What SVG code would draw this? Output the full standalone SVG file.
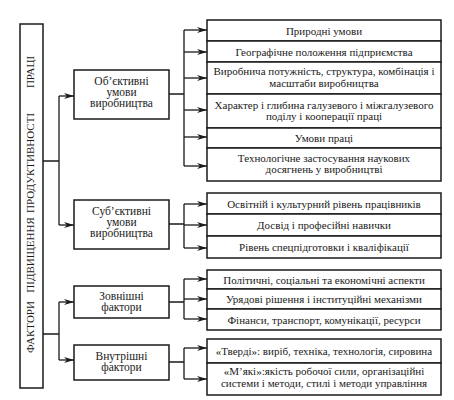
<svg xmlns="http://www.w3.org/2000/svg" width="454" height="400" viewBox="0 0 454 400">
<style>
.box{fill:#fff;stroke:#1a1a1a;stroke-width:1.5}
.ln{fill:none;stroke:#1a1a1a;stroke-width:1.3}
.t{font-family:"Liberation Serif","Times New Roman",serif;font-size:11px;fill:#1a1a1a;text-anchor:middle}
.tl{font-family:"Liberation Serif","Times New Roman",serif;font-size:11.5px;fill:#1a1a1a;text-anchor:middle}
.tv{font-family:"Liberation Serif","Times New Roman",serif;font-size:11px;fill:#1a1a1a;text-anchor:middle}
</style>
<defs>
<marker id="ar" markerWidth="10" markerHeight="6" refX="10" refY="3" orient="auto" markerUnits="userSpaceOnUse">
<path d="M0,0 L10,3 L0,6 L3,3 Z" fill="#1a1a1a"/>
</marker>
</defs>
<rect width="454" height="400" fill="#fff"/>

<g id="connectors">
<path class="ln" d="M43,161 H59 M59,96 V225"/>
<path class="ln" d="M59,96 H74" marker-end="url(#ar)"/>
<path class="ln" d="M59,225 H74" marker-end="url(#ar)"/>
<path class="ln" d="M43,334 H59 M59,302 V360"/>
<path class="ln" d="M59,302 H74" marker-end="url(#ar)"/>
<path class="ln" d="M59,360 H74" marker-end="url(#ar)"/>

<path class="ln" d="M169,94 H184 M184,30 V166"/>
<path class="ln" d="M184,30 H207" marker-end="url(#ar)"/>
<path class="ln" d="M184,52 H207" marker-end="url(#ar)"/>
<path class="ln" d="M184,78 H207" marker-end="url(#ar)"/>
<path class="ln" d="M184,110 H207" marker-end="url(#ar)"/>
<path class="ln" d="M184,137 H207" marker-end="url(#ar)"/>
<path class="ln" d="M184,166 H207" marker-end="url(#ar)"/>

<path class="ln" d="M169,224 H184 M184,204 V248"/>
<path class="ln" d="M184,204 H207" marker-end="url(#ar)"/>
<path class="ln" d="M184,225 H207" marker-end="url(#ar)"/>
<path class="ln" d="M184,248 H207" marker-end="url(#ar)"/>

<path class="ln" d="M169,302 H184 M184,279 V319"/>
<path class="ln" d="M184,279 H207" marker-end="url(#ar)"/>
<path class="ln" d="M184,299 H207" marker-end="url(#ar)"/>
<path class="ln" d="M184,319 H207" marker-end="url(#ar)"/>

<path class="ln" d="M169,362 H184 M184,348 V379"/>
<path class="ln" d="M184,348 H207" marker-end="url(#ar)"/>
<path class="ln" d="M184,379 H207" marker-end="url(#ar)"/>
</g>

<g id="root">
<rect class="box" x="20" y="24" width="23" height="364"/>
<text class="tv" transform="translate(34,327) rotate(-90)">ФАКТОРИ</text>
<text class="tv" transform="translate(34,255) rotate(-90)">ПІДВИЩЕННЯ</text>
<text class="tv" transform="translate(34,163) rotate(-90)">ПРОДУКТИВНОСТІ</text>
<text class="tv" transform="translate(34,72) rotate(-90)">ПРАЦІ</text>
</g>

<g id="obj">
<rect class="box" x="74" y="70" width="95" height="49"/>
<text class="tl" x="121.5" y="85">Об’єктивні</text>
<text class="tl" x="121.5" y="96">умови</text>
<text class="tl" x="121.5" y="107">виробництва</text>
</g>
<g id="subj">
<rect class="box" x="74" y="200" width="95" height="49"/>
<text class="tl" x="121.5" y="215">Суб’єктивні</text>
<text class="tl" x="121.5" y="226">умови</text>
<text class="tl" x="121.5" y="237">виробництва</text>
</g>
<g id="ext">
<rect class="box" x="74" y="286" width="95" height="32"/>
<text class="tl" x="121.5" y="300">Зовнішні</text>
<text class="tl" x="121.5" y="311">фактори</text>
</g>
<g id="int">
<rect class="box" x="74" y="345" width="95" height="35"/>
<text class="tl" x="121.5" y="360">Внутрішні</text>
<text class="tl" x="121.5" y="371">фактори</text>
</g>

<g id="g1">
<rect class="box" x="207" y="20" width="234" height="21"/>
<text class="t" x="324" y="34.5">Природні умови</text>
<rect class="box" x="207" y="41" width="234" height="21"/>
<text class="t" x="324" y="55.5">Географічне положення підприємства</text>
<rect class="box" x="207" y="62" width="234" height="32"/>
<text class="t" x="324" y="75">Виробнича потужність, структура, комбінація і</text>
<text class="t" x="324" y="87">масштаби виробництва</text>
<rect class="box" x="207" y="94" width="234" height="34"/>
<text class="t" x="324" y="109">Характер і глибина  галузевого і міжгалузевого</text>
<text class="t" x="324" y="120">поділу і кооперації праці</text>
<rect class="box" x="207" y="128" width="234" height="20"/>
<text class="t" x="324" y="142">Умови праці</text>
<rect class="box" x="207" y="148" width="234" height="33"/>
<text class="t" x="324" y="162">Технологічне застосування наукових</text>
<text class="t" x="324" y="173">досягнень у виробництві</text>
</g>

<g id="g2">
<rect class="box" x="207" y="193" width="234" height="21"/>
<text class="t" x="324" y="207.5">Освітній і культурний рівень працівників</text>
<rect class="box" x="207" y="214" width="234" height="22"/>
<text class="t" x="324" y="229">Досвід і професійні навички</text>
<rect class="box" x="207" y="236" width="234" height="22"/>
<text class="t" x="324" y="251">Рівень спецпідготовки і кваліфікації</text>
</g>

<g id="g3">
<rect class="box" x="207" y="270" width="234" height="19"/>
<text class="t" x="324" y="283.5">Політичні, соціальні та економічні аспекти</text>
<rect class="box" x="207" y="289" width="234" height="20"/>
<text class="t" x="324" y="303">Урядові рішення і інституційні механізми</text>
<rect class="box" x="207" y="309" width="234" height="21"/>
<text class="t" x="324" y="323.5">Фінанси, транспорт, комунікації, ресурси</text>
</g>

<g id="g4">
<rect class="box" x="207" y="339" width="234" height="24"/>
<text class="t" x="324" y="355">«Тверді»: виріб, техніка, технологія, сировина</text>
<rect class="box" x="207" y="363" width="234" height="32"/>
<text class="t" x="324" y="375">«М’які»:якість  робочої сили, організаційні</text>
<text class="t" x="324" y="387">системи і методи, стилі і методи управління</text>
</g>
</svg>
